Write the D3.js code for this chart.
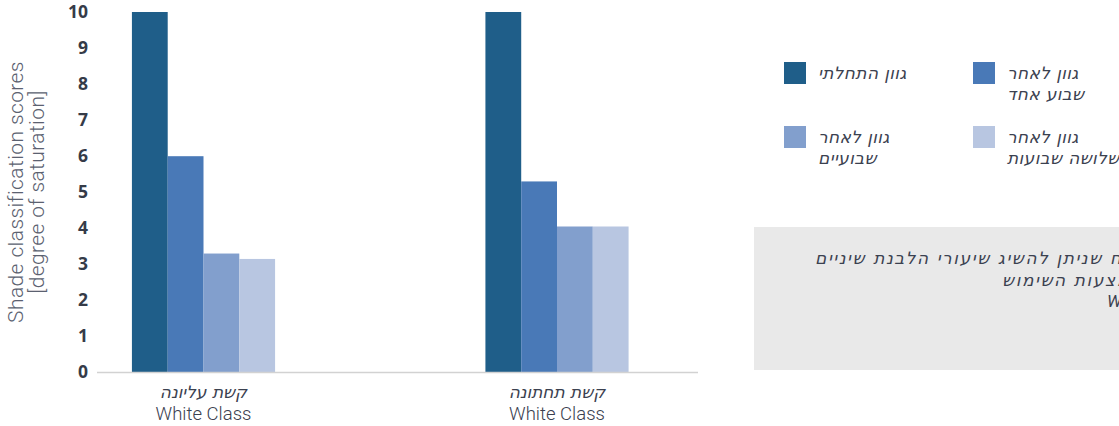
<!DOCTYPE html>
<html><head><meta charset="utf-8">
<script src="https://cdn.jsdelivr.net/npm/d3@7"></script>
<style>
html,body{margin:0;padding:0;background:#fff;overflow:hidden;}
svg{display:block;}
</style></head>
<body>
<svg id="chart" width="1119" height="426"></svg>
<script>
const categories = ["קשת עליונה", "קשת תחתונה"];
const categorySub = ["White Class", "White Class"];
const seriesKeys = ["initial", "week1", "week2", "week3"];
const seriesLabels = [["גוון התחלתי"], ["גוון לאחר", "שבוע אחד"], ["גוון לאחר", "שבועיים"], ["גוון לאחר", "שלושה שבועות"]];
const initialValues = [10, 10];
const week1Values = [6.0, 5.3];
const week2Values = [3.3, 4.05];
const week3Values = [3.15, 4.05];
const yTicks = [0, 1, 2, 3, 4, 5, 6, 7, 8, 9, 10];
const yTitle = ["Shade classification scores", "[degree of saturation]"];
const noteLines = ["הוכח  שניתן להשיג שיעורי הלבנת שיניים", "באמצעות השימוש", "White Class"];

const colors = ["#1f5e89", "#4979b7", "#829fcd", "#b8c6e1"];
const seriesValues = [initialValues, week1Values, week2Values, week3Values];

const svg = d3.select("#chart");
const hebFont = "'DejaVu Sans', sans-serif";

const y = d3.scaleLinear().domain([0, 10]).range([372.5, 12]);
const x0 = d3.scaleBand().domain(categories).range([26.75, 733.75]).paddingInner(0.595).paddingOuter(0.2975);
const x1 = d3.scaleBand().domain(seriesKeys).range([0, x0.bandwidth()]).padding(0);

// gray note box
svg.append("rect").attr("x", 754).attr("y", 227).attr("width", 400).attr("height", 143).attr("fill", "#e9e9e9");
const noteX = [815, 1002, 1107];
svg.selectAll("text.note").data(noteLines).join("text")
  .attr("class", "note")
  .attr("x", (d, i) => noteX[i])
  .attr("y", (d, i) => 264 + i * 21.5)
  .attr("text-anchor", "start")
  .attr("font-family", (d, i) => i === 2 ? "Roboto, sans-serif" : hebFont)
  .attr("font-style", "italic")
  .attr("font-size", 17)
  .attr("letter-spacing", (d, i) => i === 2 ? 0 : 1.6)
  .attr("fill", "#3b4150")
  .text(d => d);

// bars
const groups = svg.selectAll("g.grp").data(categories).join("g")
  .attr("class", "grp")
  .attr("transform", d => `translate(${x0(d)},0)`);
groups.selectAll("rect").data((d, ci) => seriesKeys.map((k, si) => ({k, si, v: seriesValues[si][ci]}))).join("rect")
  .attr("x", d => x1(d.k))
  .attr("width", x1.bandwidth())
  .attr("y", d => y(d.v))
  .attr("height", d => y(0) - y(d.v))
  .attr("fill", d => colors[d.si]);

// baseline
svg.append("line").attr("x1", 97).attr("x2", 698).attr("y1", y(0)).attr("y2", y(0))
  .attr("stroke", "#d2d2d2").attr("stroke-width", 1.5);

// y axis labels
const yAxis = d3.axisLeft(y).tickValues(yTicks).tickSize(0).tickPadding(0).tickFormat(d3.format("d"));
const ga = svg.append("g").attr("transform", "translate(88,0)").call(yAxis);
ga.select(".domain").remove();
ga.selectAll("text")
  .attr("font-family", "'Open Sans', sans-serif")
  .attr("font-weight", 700)
  .attr("font-size", 17.5)
  .attr("fill", "#353b48")
  .attr("dy", "0.3em");

// y title
svg.selectAll("text.ytitle").data(yTitle).join("text")
  .attr("class", "ytitle")
  .attr("transform", (d, i) => `translate(${23 + i * 21},192) rotate(-90)`)
  .attr("text-anchor", "middle")
  .attr("font-family", "Roboto, sans-serif")
  .attr("font-weight", 300)
  .attr("font-size", 21)
  .attr("letter-spacing", 0.4)
  .attr("fill", "#5b6170")
  .text(d => d);

// x labels
const xl = svg.selectAll("g.xl").data(categories).join("g")
  .attr("class", "xl")
  .attr("transform", d => `translate(${x0(d) + x0.bandwidth() / 2},0)`);
xl.append("text").attr("y", 398).attr("text-anchor", "middle")
  .attr("font-family", hebFont).attr("font-style", "italic").attr("font-size", 17)
  .attr("fill", "#3b4150").text(d => d);
xl.append("text").attr("y", 420).attr("text-anchor", "middle")
  .attr("font-family", "Roboto, sans-serif").attr("font-weight", 300).attr("font-size", 18.5)
  .attr("fill", "#3b4150").text((d, i) => categorySub[i]);

// legend
const legPos = [[784, 62], [973, 62], [784, 126], [973, 126]];
const leg = svg.selectAll("g.leg").data(seriesKeys).join("g")
  .attr("class", "leg")
  .attr("transform", (d, i) => `translate(${legPos[i][0]},${legPos[i][1]})`);
leg.append("rect").attr("width", 22).attr("height", 22).attr("fill", (d, i) => colors[i]);
leg.each(function(d, i) {
  d3.select(this).selectAll("text").data(seriesLabels[i]).join("text")
    .attr("x", 34)
    .attr("y", (t, j) => 17 + j * 21)
    .attr("text-anchor", "start")
    .attr("font-family", hebFont)
    .attr("font-style", "italic")
    .attr("font-size", 17)
    .attr("letter-spacing", 0.4)
    .attr("fill", "#3b4150")
    .text(t => t);
});
</script>
</body></html>
